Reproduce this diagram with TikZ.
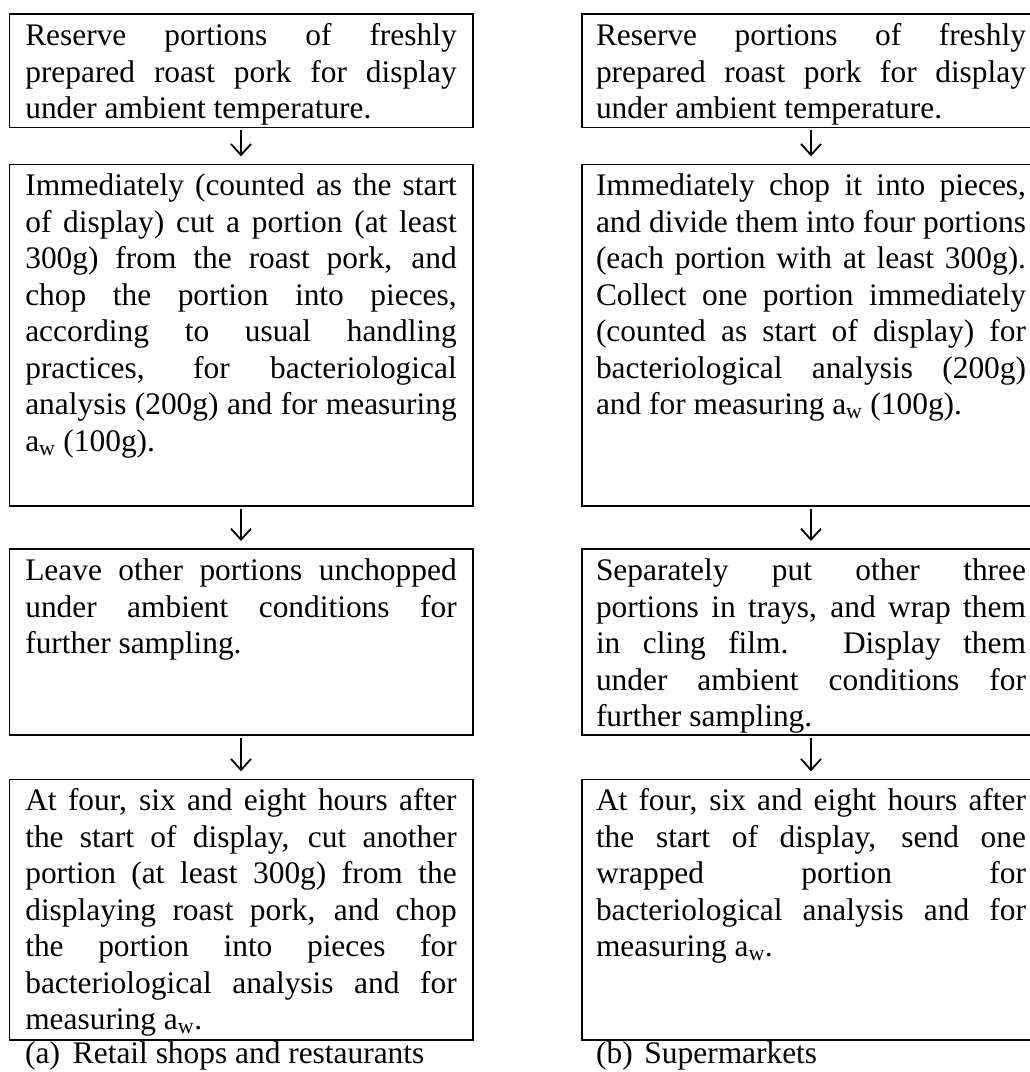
\documentclass[tikz,border=0pt]{standalone}
\usepackage{fontspec}
\setmainfont{Liberation Serif}
\usetikzlibrary{arrows.meta}
\tolerance=10000
\hyphenpenalty=10000
\hbadness=10000
\newcommand{\bodyfont}{\fontsize{31.4pt}{36.5pt}\selectfont}
\begin{document}
\begin{tikzpicture}[x=1pt,y=1pt,
  flowbox/.style={draw, line width=1.6pt, rectangle, anchor=north west,
    inner ysep=0pt, outer sep=0pt, align=justify, text height=31.5pt,
    font=\bodyfont},
  leftbox/.style={flowbox, inner xsep=16pt, text width=431.4pt},
  rightbox/.style={flowbox, inner xsep=14pt, text width=430pt},
  flowarrow/.style={line width=1.8pt, -{Straight Barb[length=11pt,width=20pt]}},
  caption/.style={anchor=base west, inner sep=0pt, font=\bodyfont}]
\fill[white] (0,0) rectangle (1030,-1072);
\useasboundingbox (0,0) rectangle (1030,-1072);

% left column
\node[leftbox, text depth=81.8pt] (l1) at (9.3,-14) {Reserve portions of freshly\linebreak prepared roast pork for display\linebreak under ambient temperature.};
\node[leftbox, text depth=310.2pt] (l2) at (9.3,-164.3) {Immediately (counted as the start\linebreak of display) cut a portion (at least\linebreak 300g) from the roast pork, and\linebreak chop the portion into pieces,\linebreak according to usual handling\linebreak practices, for bacteriological\linebreak analysis (200g) and for measuring\linebreak a\textsubscript{w} (100g).};
\node[leftbox, text depth=154.2pt] (l3) at (9.3,-549) {Leave other portions unchopped\linebreak under ambient conditions for\linebreak further sampling.};
\node[leftbox, text depth=229.2pt] (l4) at (9.3,-779.3) {At four, six and eight hours after\linebreak the start of display, cut another\linebreak portion (at least 300g) from the\linebreak displaying roast pork, and chop\linebreak the portion into pieces for\linebreak bacteriological analysis and for\linebreak measuring a\textsubscript{w}.};

% right column
\node[rightbox, text depth=81.8pt] (r1) at (582,-14) {Reserve portions of freshly\linebreak prepared roast pork for display\linebreak under ambient temperature.};
\node[rightbox, text depth=310.2pt] (r2) at (582,-164.3) {Immediately chop it into pieces,\linebreak and divide them into four portions\linebreak (each portion with at least 300g).\linebreak Collect one portion immediately\linebreak (counted as start of display) for\linebreak bacteriological analysis (200g)\linebreak and for measuring a\textsubscript{w} (100g).};
\node[rightbox, text depth=154.2pt] (r3) at (582,-549) {Separately put other three\linebreak portions in trays, and wrap them\linebreak in cling film.  Display them\linebreak under ambient conditions for\linebreak further sampling.};
\node[rightbox, text depth=229.2pt] (r4) at (582,-779.3) {At four, six and eight hours after\linebreak the start of display, send one\linebreak wrapped portion for\linebreak bacteriological analysis and for\linebreak measuring a\textsubscript{w}.};

% arrows
\draw[flowarrow] ([yshift=-3pt]l1.south) -- ([yshift=8pt]l2.north);
\draw[flowarrow] ([yshift=-3pt]l2.south) -- ([yshift=8pt]l3.north);
\draw[flowarrow] ([yshift=-3pt]l3.south) -- ([yshift=8pt]l4.north);
\draw[flowarrow] ([yshift=-3pt]r1.south) -- ([yshift=8pt]r2.north);
\draw[flowarrow] ([yshift=-3pt]r2.south) -- ([yshift=8pt]r3.north);
\draw[flowarrow] ([yshift=-3pt]r3.south) -- ([yshift=8pt]r4.north);

% captions
\node[caption] (capa) at (25,-1063) {\makebox[47.7pt][l]{(a)}Retail shops and restaurants};
\node[caption] (capb) at (596,-1063) {\makebox[48.3pt][l]{(b)}Supermarkets};
\end{tikzpicture}
\end{document}
